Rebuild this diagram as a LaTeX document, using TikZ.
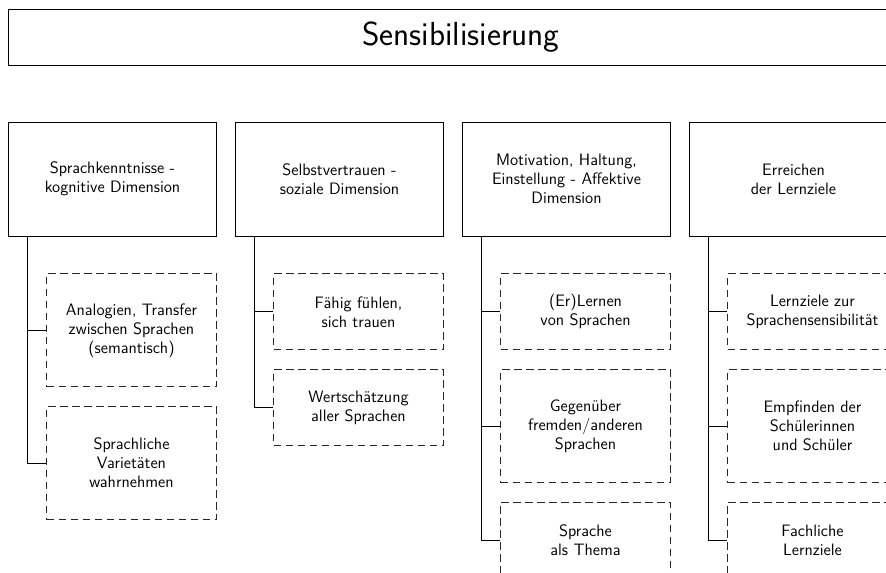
\documentclass[tikz,border=0pt]{standalone}
\usepackage{fontspec}
\usetikzlibrary{positioning}

\tikzset{
  head/.style={draw, line width=0.6pt, minimum width=679.5pt, minimum height=42pt,
    font=\sffamily\fontsize{25}{29}\selectfont},
  dimbox/.style={draw, line width=0.6pt, align=center, minimum width=156pt,
    minimum height=85.5pt, font=\sffamily\fontsize{12.4}{14.25}\selectfont},
  sub/.style={draw=black!85, dash pattern=on 5.5pt off 3.5pt, line width=0.6pt,
    align=center, minimum width=127.5pt, minimum height=57pt,
    font=\sffamily\fontsize{12.4}{14.25}\selectfont},
  subtall/.style={sub, minimum height=84.75pt},
  link/.style={line width=0.6pt},
}

\begin{document}
\begin{tikzpicture}[x=0.75pt, y=0.75pt]
    \useasboundingbox (0,0) rectangle (886,-573);
    \clip (0,0) rectangle (886,-573);

    \node[head] (title) at (461,-37) {Sensibilisierung};

    % dimensions
    \node[dimbox] (p1) at (112.5,-179) {Sprachkenntnisse -\\kognitive Dimension};
    \node[dimbox] (p2) at (339.5,-179) {Selbstvertrauen -\\soziale Dimension};
    \node[dimbox] (p3) at (566.5,-179) {Motivation, Haltung,\\Einstellung - Affektive\\Dimension};
    \node[dimbox] (p4) at (793.5,-179) {Erreichen\\der Lernziele};

    % sub items
    \node[subtall, below=27.75pt of p1.south east, anchor=north east] (c11) {Analogien, Transfer\\zwischen Sprachen\\(semantisch)};
    \node[subtall, below=14.25pt of c11] (c12) {Sprachliche\\Varietäten\\wahrnehmen};

    \node[sub, below=27.75pt of p2.south east, anchor=north east] (c21) {Fähig fühlen,\\sich trauen};
    \node[sub, below=14.25pt of c21] (c22) {Wertschätzung\\aller Sprachen};

    \node[sub, below=27.75pt of p3.south east, anchor=north east] (c31) {(Er)Lernen\\von Sprachen};
    \node[subtall, below=14.25pt of c31] (c32) {Gegenüber\\fremden/anderen\\Sprachen};
    \node[sub, below=14.25pt of c32] (c33) {Sprache\\als Thema};

    \node[sub, below=27.75pt of p4.south east, anchor=north east] (c41) {Lernziele zur\\Sprachensensibilität};
    \node[subtall, below=14.25pt of c41] (c42) {Empfinden der\\Schülerinnen\\und Schüler};
    \node[sub, below=14.25pt of c42] (c43) {Fachliche\\Lernziele};

    % connectors
    \draw[link] ([xshift=14.25pt]p1.south west) |- (c11.west);
    \draw[link] ([xshift=14.25pt]p1.south west) |- (c12.west);
    \draw[link] ([xshift=14.25pt]p2.south west) |- (c21.west);
    \draw[link] ([xshift=14.25pt]p2.south west) |- (c22.west);
    \draw[link] ([xshift=14.25pt]p3.south west) |- (c31.west);
    \draw[link] ([xshift=14.25pt]p3.south west) |- (c32.west);
    \draw[link] ([xshift=14.25pt]p3.south west) |- (c33.west);
    \draw[link] ([xshift=14.25pt]p4.south west) |- (c41.west);
    \draw[link] ([xshift=14.25pt]p4.south west) |- (c42.west);
    \draw[link] ([xshift=14.25pt]p4.south west) |- (c43.west);
\end{tikzpicture}
\end{document}
